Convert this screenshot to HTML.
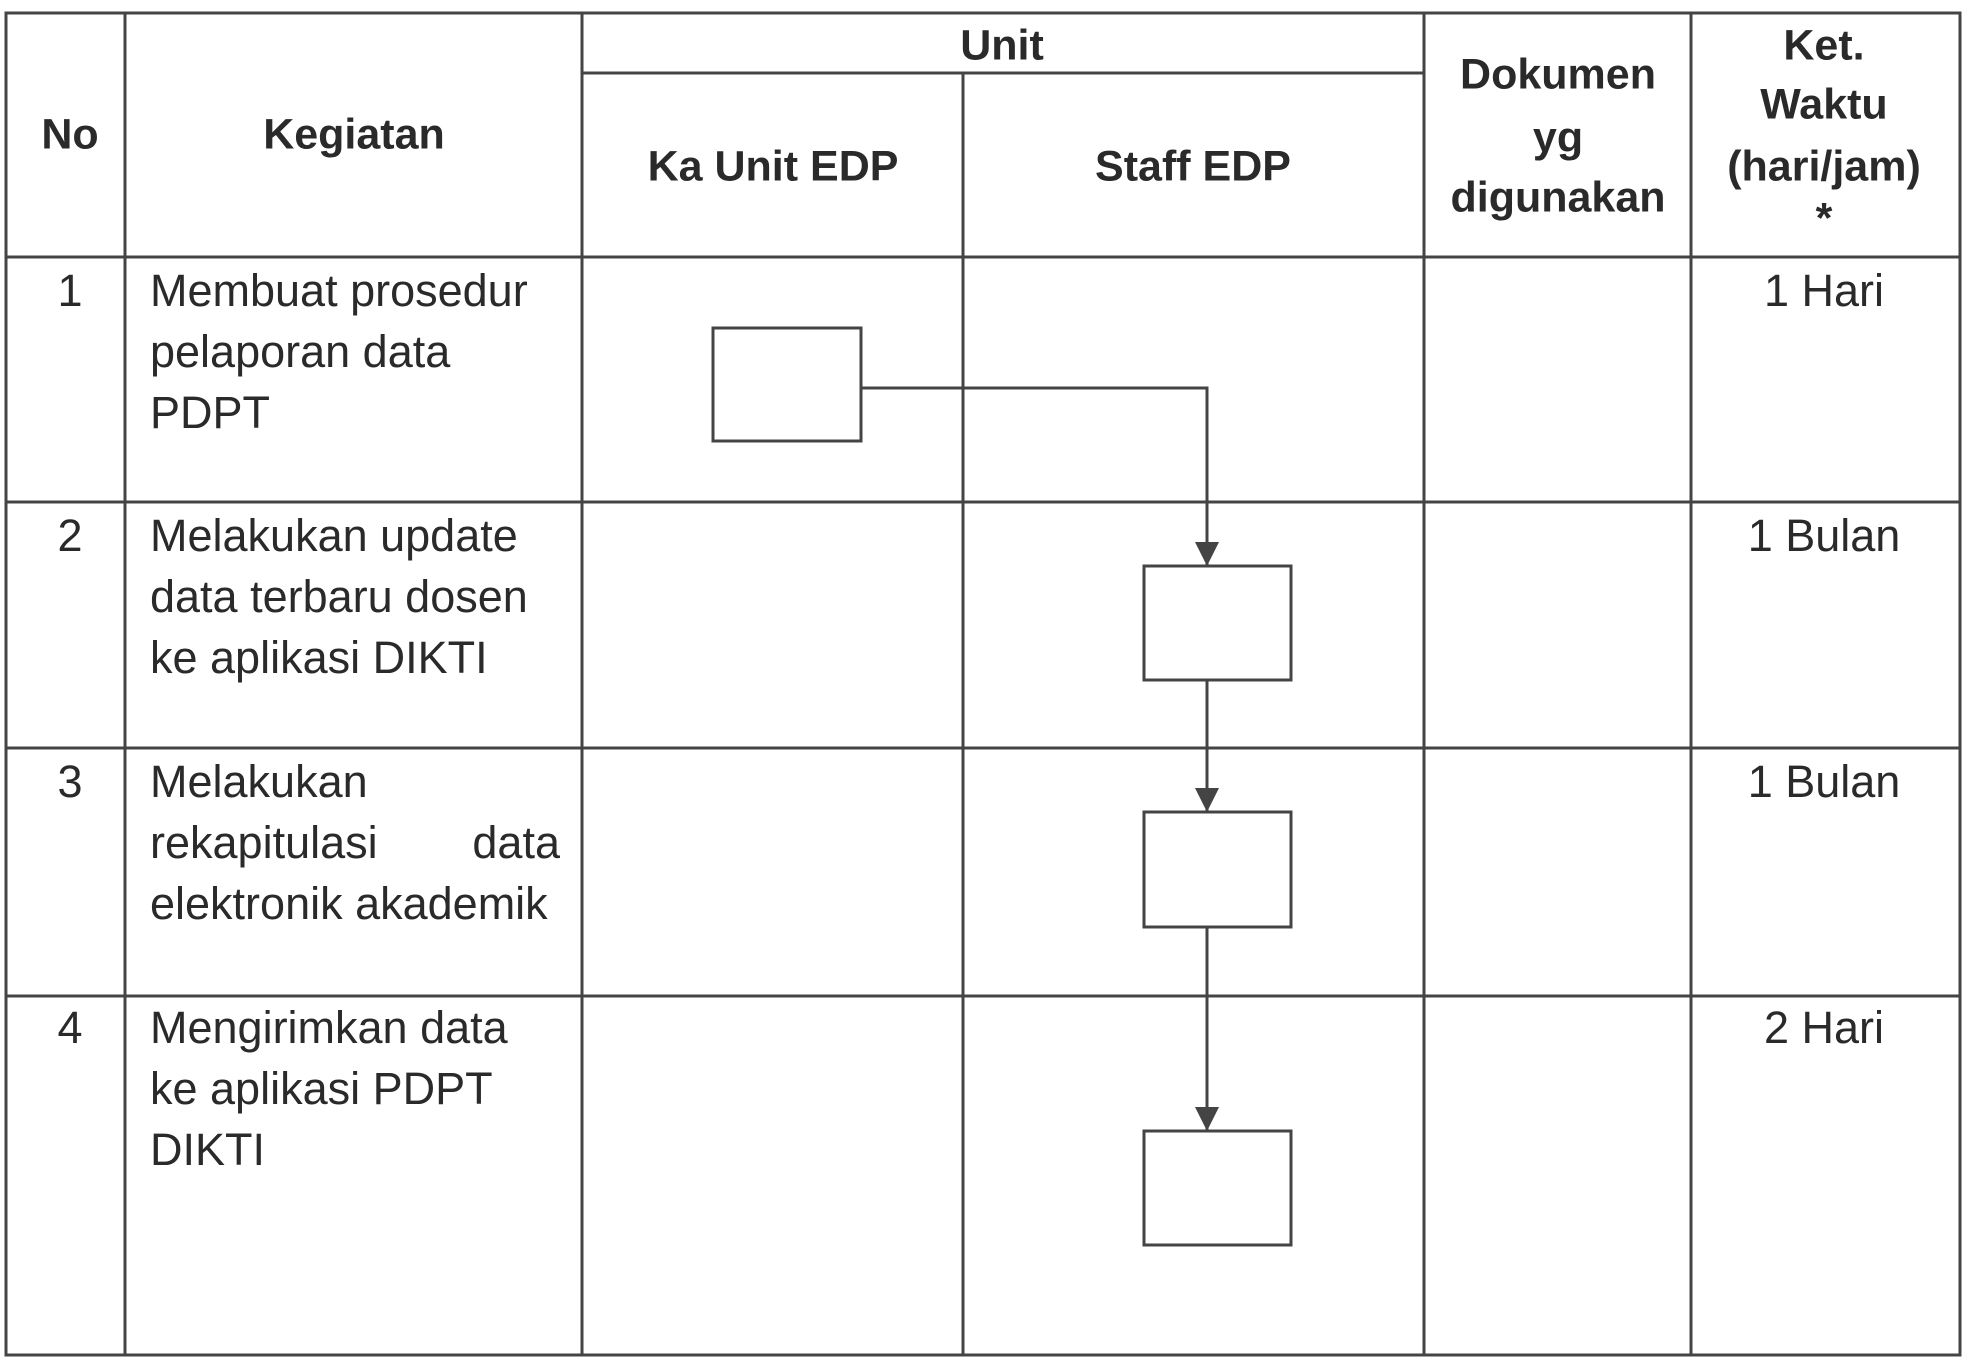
<!DOCTYPE html>
<html><head><meta charset="utf-8"><style>
body{margin:0;background:#fff;}
#c{position:relative;width:1964px;height:1360px;overflow:hidden;background:#fff;font-family:"Liberation Sans",sans-serif;color:#2a2a2a;}
.t{position:absolute;font-size:45px;line-height:61px;white-space:nowrap;}
.h{position:absolute;font-size:43px;font-weight:bold;white-space:nowrap;transform:translate(-50%,-50%);}
.c{position:absolute;font-size:45px;white-space:nowrap;transform:translate(-50%,-50%);}
</style></head><body><div id="c">
<svg width="1964" height="1360" style="position:absolute;left:0;top:0">
<defs>
<marker id="b" markerWidth="24" markerHeight="24" refX="24" refY="12" orient="auto" markerUnits="userSpaceOnUse" viewBox="0 0 24 24"><path d="M0,0 L24,12 L0,24 z" fill="#444"/></marker></defs>
<g stroke="#444" stroke-width="3" fill="none">
<rect x="6" y="13" width="1954" height="1342"/>
<line x1="125" y1="13" x2="125" y2="1355"/>
<line x1="582" y1="13" x2="582" y2="1355"/>
<line x1="963" y1="73" x2="963" y2="1355"/>
<line x1="1424" y1="13" x2="1424" y2="1355"/>
<line x1="1691" y1="13" x2="1691" y2="1355"/>
<line x1="582" y1="73" x2="1424" y2="73"/>
<line x1="6" y1="257" x2="1960" y2="257"/>
<line x1="6" y1="502" x2="1960" y2="502"/>
<line x1="6" y1="748" x2="1960" y2="748"/>
<line x1="6" y1="996" x2="1960" y2="996"/>
<rect x="713" y="328" width="148" height="113" fill="#fff"/>
<rect x="1144" y="566" width="147" height="114" fill="#fff"/>
<rect x="1144" y="812" width="147" height="115" fill="#fff"/>
<rect x="1144" y="1131" width="147" height="114" fill="#fff"/>
<polyline points="861,388 1207,388 1207,566" marker-end="url(#b)"/>
<line x1="1207" y1="680" x2="1207" y2="812" marker-end="url(#b)"/>
<line x1="1207" y1="927" x2="1207" y2="1131" marker-end="url(#b)"/>
</g></svg>
<div class="h" style="left:1002px;top:46px">Unit</div>
<div class="h" style="left:70px;top:135px">No</div>
<div class="h" style="left:354px;top:135px">Kegiatan</div>
<div class="h" style="left:773px;top:167px">Ka Unit EDP</div>
<div class="h" style="left:1193px;top:167px">Staff EDP</div>
<div class="h" style="left:1558px;top:75px">Dokumen</div>
<div class="h" style="left:1558px;top:138px">yg</div>
<div class="h" style="left:1558px;top:198px">digunakan</div>
<div class="h" style="left:1824px;top:46px">Ket.</div>
<div class="h" style="left:1824px;top:105px">Waktu</div>
<div class="h" style="left:1824px;top:167px">(hari/jam)</div>
<div class="h" style="left:1824px;top:219px">*</div>
<div class="c" style="left:70px;top:291px">1</div>
<div class="c" style="left:70px;top:536px">2</div>
<div class="c" style="left:70px;top:782px">3</div>
<div class="c" style="left:70px;top:1028px">4</div>
<div class="c" style="left:1824px;top:291px">1 Hari</div>
<div class="c" style="left:1824px;top:536px">1 Bulan</div>
<div class="c" style="left:1824px;top:782px">1 Bulan</div>
<div class="c" style="left:1824px;top:1028px">2 Hari</div>
<div class="t" style="left:150px;top:260px">Membuat prosedur<br>pelaporan data<br>PDPT</div>
<div class="t" style="left:150px;top:505px">Melakukan update<br>data terbaru dosen<br>ke aplikasi DIKTI</div>
<div class="t" style="left:150px;top:751px">Melakukan<br><span style="display:inline-block;width:410px"><span>rekapitulasi</span><span style="float:right">data</span></span><br>elektronik akademik</div>
<div class="t" style="left:150px;top:997px">Mengirimkan data<br>ke aplikasi PDPT<br>DIKTI</div>
</div></body></html>
